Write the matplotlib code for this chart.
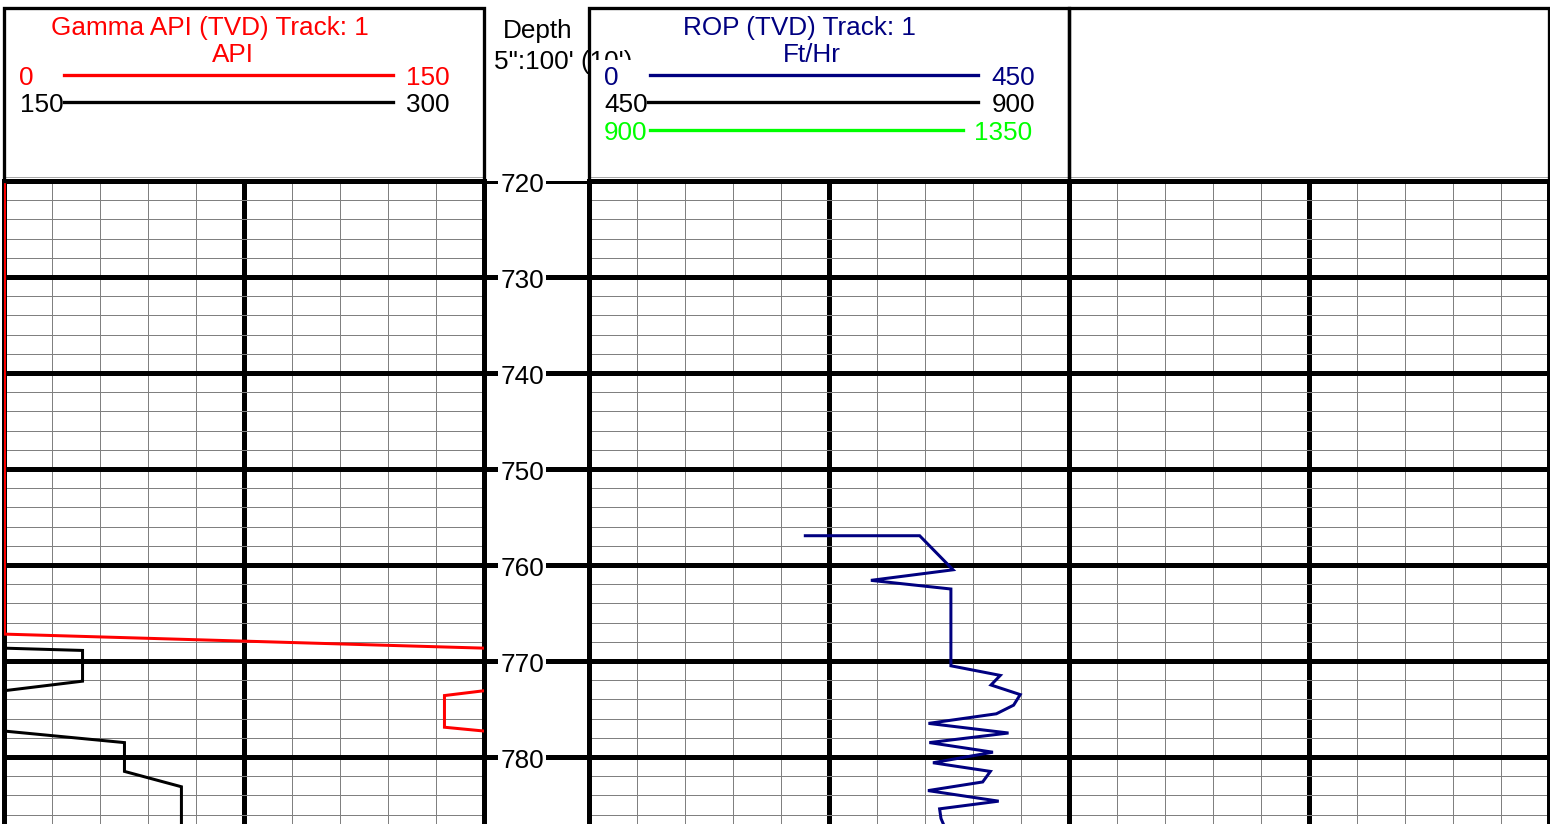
import matplotlib
matplotlib.use("Agg")
import matplotlib.pyplot as plt
from matplotlib.patches import Rectangle
import numpy as np

# ---------------- data ----------------
gamma_depth = [720.0, 767.2, 768.9, 772.1, 773.6, 776.9, 778.5, 781.5, 783.1, 787.0]
gamma_api = [0.3, 0.3, 174.7, 174.7, 137.8, 137.8, 187.8, 187.8, 205.6, 205.6]

rop_depth = [756.95, 756.95, 760.5, 761.6, 762.5, 770.5, 771.5, 772.5, 773.5, 774.6,
             775.5, 776.5, 777.5, 778.5, 779.5, 780.6, 781.5, 782.6, 783.5, 784.6,
             785.4, 786.4, 787.0]
rop_fthr = [202.5, 309.7, 341.0, 264.0, 339.0, 339.0, 385.3, 376.6, 404.0, 397.8,
            381.6, 318.0, 393.0, 318.8, 378.4, 322.2, 376.0, 368.8, 317.5, 383.8,
            328.4, 329.7, 332.0]

depth_labels = [720, 730, 740, 750, 760, 770, 780]

gamma_title = "Gamma API (TVD) Track: 1"
gamma_unit = "API"
gamma_scales = [("0", "150", "#ff0000"), ("150", "300", "#000000")]
gamma_wrap = [0, 150]

rop_title = "ROP (TVD) Track: 1"
rop_unit = "Ft/Hr"
rop_scales = [("0", "450", "#000080"), ("450", "900", "#000000"), ("900", "1350", "#00ff00")]
rop_wrap = [0, 450, 900]

depth_title = "Depth"
depth_scale_text = "5\":100' (10')"

# ---------------- layout ----------------
W, H = 1550, 824
DPI = 100
PXPT = 72.0 / DPI
TOP_DATA = 181.0
PX_PER_FT = 9.6
DEPTH_TOP = 720.0
DEPTH_BOT = DEPTH_TOP + (H - TOP_DATA) / PX_PER_FT

X_G0, X_G1 = 3.5, 483.5
X_R0, X_R1 = 589.3, 1069.3
X_E0, X_E1 = 1069.3, 1549.3
HEAD_TOP = 8.3

plt.rcParams["font.family"] = ["Liberation Sans", "DejaVu Sans"]
FS = 18.8

fig = plt.figure(figsize=(W / DPI, H / DPI), dpi=DPI)
fig.patch.set_facecolor("white")


def rect(x0, y0, x1, y1):
    return [x0 / W, 1 - y1 / H, (x1 - x0) / W, (y1 - y0) / H]


def track_axes(x0, x1, xmax):
    ax = fig.add_axes(rect(x0, TOP_DATA, x1, H))
    ax.set_xticks([xmax / 2])
    ax.set_xticks(np.linspace(0, xmax, 11), minor=True)
    ax.set_yticks(np.arange(720, 781, 10))
    ax.set_yticks(np.arange(720, 787, 2), minor=True)
    ax.set_xlim(0, xmax)
    ax.set_ylim(DEPTH_BOT, DEPTH_TOP)
    ax.tick_params(which="both", length=0, labelleft=False, labelbottom=False)
    ax.set_axisbelow(True)
    ax.grid(which="minor", color="#808080", lw=1.0 * PXPT)
    ax.grid(which="major", color="black", lw=5 * PXPT)
    for s in ["left", "right", "top"]:
        ax.spines[s].set_linewidth(5 * PXPT)
    ax.spines["bottom"].set_visible(False)
    return ax


# Gamma track
axg = track_axes(X_G0, X_G1, 150)
g = np.array(gamma_api)
for (lo, hi, col), off in zip(gamma_scales, gamma_wrap):
    axg.plot(g - off, gamma_depth, color=col, lw=3 * PXPT, zorder=3,
             solid_joinstyle="miter")

# ROP track
axr = track_axes(X_R0, X_R1, 450)
r = np.array(rop_fthr)
for (lo, hi, col), off in zip(rop_scales, rop_wrap):
    axr.plot(r - off, rop_depth, color=col, lw=3 * PXPT, zorder=3,
             solid_joinstyle="miter")

# Empty track
axe = track_axes(X_E0, X_E1, 1)

# Depth track
axd = fig.add_axes(rect(X_G1, TOP_DATA, X_R0, H))
axd.set_xlim(0, 1)
axd.set_ylim(DEPTH_BOT, DEPTH_TOP)
axd.axis("off")
for d in depth_labels:
    axd.axhline(d, color="black", lw=5 * PXPT, zorder=1)
    axd.text((522 - X_G1) / (X_R0 - X_G1), d + 1.1, str(d), ha="center",
             va="baseline", fontsize=FS, zorder=2,
             bbox=dict(boxstyle="square,pad=0.08", fc="white", ec="none"))

# ---------------- headers ----------------
axh = fig.add_axes([0, 0, 1, 1], zorder=10)
axh.set_xlim(0, W)
axh.set_ylim(H, 0)
axh.axis("off")
axh.patch.set_alpha(0)

# depth header text (partially covered by ROP header)
axh.text(503, 38, depth_title, fontsize=FS, ha="left", va="baseline", zorder=1)
axh.text(494, 69, depth_scale_text, fontsize=FS, ha="left", va="baseline", zorder=1)
axh.add_patch(Rectangle((X_R0, 60), X_R1 - X_R0, 117, fc="white", ec="none", zorder=2))

for x0, x1 in [(X_G0, X_G1), (X_R0, X_R1), (X_E0, X_E1)]:
    axh.add_patch(Rectangle((x0, HEAD_TOP), x1 - x0, TOP_DATA - HEAD_TOP,
                            fc="none", ec="black", lw=3.3 * PXPT, zorder=5,
                            joinstyle="miter"))
    axh.plot([x0 + 2, x1 - 2], [177.3, 177.3], color="#a8a8a8", lw=1 * PXPT, zorder=4)

# gamma header
axh.text(209.5, 35, gamma_title, color=gamma_scales[0][2], fontsize=FS,
         ha="center", va="baseline", zorder=6)
axh.text(233, 62, gamma_unit, color=gamma_scales[0][2], fontsize=FS,
         ha="center", va="baseline", zorder=6)
g_rows = [75, 102]
for (lo, hi, col), yl in zip(gamma_scales, g_rows):
    axh.plot([64, 393], [yl, yl], color=col, lw=3.3 * PXPT, zorder=6)
    axh.text(19.5, yl + 10, lo, color=col, fontsize=FS, ha="left", va="baseline", zorder=6)
    axh.text(449.5, yl + 10, hi, color=col, fontsize=FS, ha="right", va="baseline", zorder=6)

# ROP header
axh.text(799, 35, rop_title, color=rop_scales[0][2], fontsize=FS,
         ha="center", va="baseline", zorder=6)
axh.text(811.5, 62, rop_unit, color=rop_scales[0][2], fontsize=FS,
         ha="center", va="baseline", zorder=6)
r_rows = [75, 102, 129.5]
r_line_x = [(650, 978), (648, 978), (650, 963)]
r_right = [1035, 1035, 1032]
for (lo, hi, col), yl, (lx0, lx1), xr in zip(rop_scales, r_rows, r_line_x, r_right):
    axh.plot([lx0, lx1], [yl, yl], color=col, lw=3.3 * PXPT, zorder=6)
    axh.text(604, yl + 10, lo, color=col, fontsize=FS, ha="left", va="baseline", zorder=6)
    axh.text(xr, yl + 10, hi, color=col, fontsize=FS, ha="right", va="baseline", zorder=6)

fig.savefig("out.png", dpi=DPI, facecolor="white")
